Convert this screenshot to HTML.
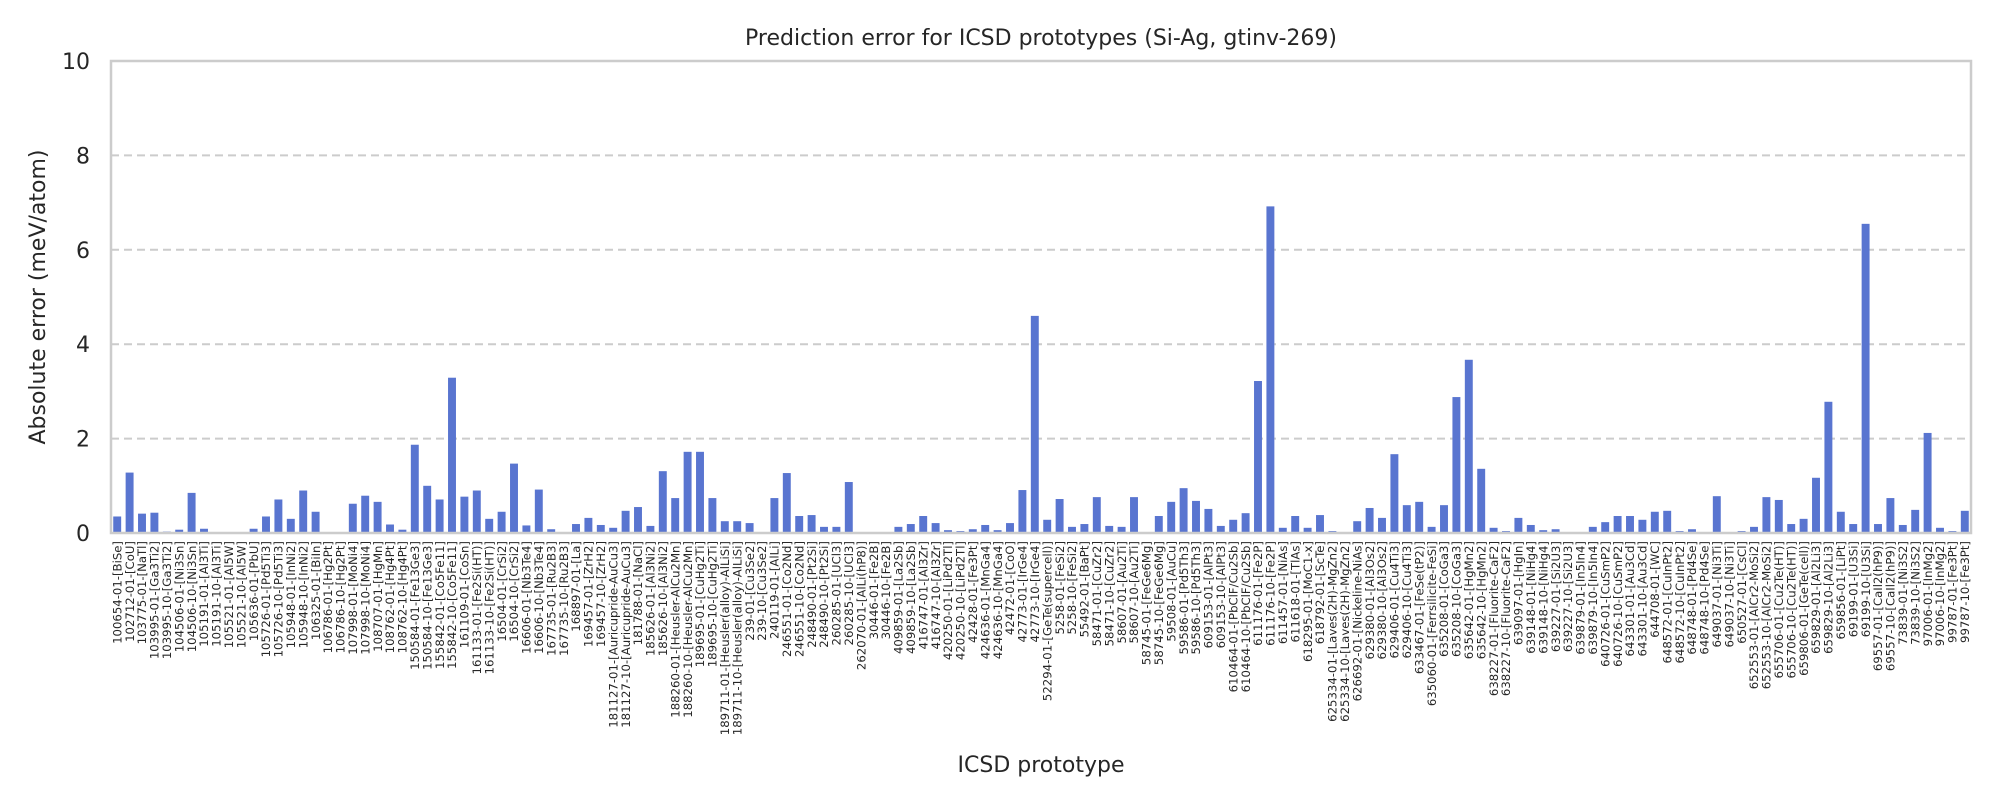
<!DOCTYPE html>
<html><head><meta charset="utf-8"><style>
html,body{margin:0;padding:0;background:#fff;}
svg{display:block;font-family:"DejaVu Sans","Liberation Sans",sans-serif;}
</style></head><body>
<svg id="chart" width="2000" height="800" viewBox="0 0 2000 800" xmlns="http://www.w3.org/2000/svg">
<rect width="2000" height="800" fill="#fff"/>
<text x="1041" y="45" font-size="22" text-anchor="middle" fill="#262626">Prediction error for ICSD prototypes (Si-Ag, gtinv-269)</text>
<g id="grid"></g>
<g id="bars"></g>
<g id="yticks"></g>
<g id="xticks"></g>
<rect x="111" y="61" width="1860" height="472" fill="none" stroke="#cccccc" stroke-width="2.5"/>
<text transform="translate(45,297) rotate(-90)" font-size="22" text-anchor="middle" fill="#262626">Absolute error (meV/atom)</text>
<text x="1041" y="772" font-size="22" text-anchor="middle" fill="#262626">ICSD prototype</text>
</svg>
<script>
const categories = ["100654-01-[BiSe]","102712-01-[CoU]","103775-01-[NaTl]","103995-01-[Ga3Ti2]","103995-10-[Ga3Ti2]","104506-01-[Ni3Sn]","104506-10-[Ni3Sn]","105191-01-[Al3Ti]","105191-10-[Al3Ti]","105521-01-[Al5W]","105521-10-[Al5W]","105636-01-[PbU]","105726-01-[Pd5Ti3]","105726-10-[Pd5Ti3]","105948-01-[InNi2]","105948-10-[InNi2]","106325-01-[BiIn]","106786-01-[Hg2Pt]","106786-10-[Hg2Pt]","107998-01-[MoNi4]","107998-10-[MoNi4]","108707-01-[HgMn]","108762-01-[Hg4Pt]","108762-10-[Hg4Pt]","150584-01-[Fe13Ge3]","150584-10-[Fe13Ge3]","155842-01-[Co5Fe11]","155842-10-[Co5Fe11]","161109-01-[CoSn]","161133-01-[Fe2Si(HT)]","161133-10-[Fe2Si(HT)]","16504-01-[CrSi2]","16504-10-[CrSi2]","16606-01-[Nb3Te4]","16606-10-[Nb3Te4]","167735-01-[Ru2B3]","167735-10-[Ru2B3]","168897-01-[La]","169457-01-[ZrH2]","169457-10-[ZrH2]","181127-01-[Auricupride-AuCu3]","181127-10-[Auricupride-AuCu3]","181788-01-[NaCl]","185626-01-[Al3Ni2]","185626-10-[Al3Ni2]","188260-01-[Heusler-AlCu2Mn]","188260-10-[Heusler-AlCu2Mn]","189695-01-[CuHg2Ti]","189695-10-[CuHg2Ti]","189711-01-[Heusler(alloy)-AlLiSi]","189711-10-[Heusler(alloy)-AlLiSi]","239-01-[Cu3Se2]","239-10-[Cu3Se2]","240119-01-[AlLi]","246551-01-[Co2Nd]","246551-10-[Co2Nd]","248490-01-[Pt2Si]","248490-10-[Pt2Si]","260285-01-[UCl3]","260285-10-[UCl3]","262070-01-[AlLi(hP8)]","30446-01-[Fe2B]","30446-10-[Fe2B]","409859-01-[La2Sb]","409859-10-[La2Sb]","416747-01-[Al3Zr]","416747-10-[Al3Zr]","420250-01-[LiPd2Tl]","420250-10-[LiPd2Tl]","42428-01-[Fe3Pt]","424636-01-[MnGa4]","424636-10-[MnGa4]","42472-01-[CoO]","42773-01-[IrGe4]","42773-10-[IrGe4]","52294-01-[GeTe(supercell)]","5258-01-[FeSi2]","5258-10-[FeSi2]","55492-01-[BaPt]","58471-01-[CuZr2]","58471-10-[CuZr2]","58607-01-[Au2Ti]","58607-10-[Au2Ti]","58745-01-[FeGe6Mg]","58745-10-[FeGe6Mg]","59508-01-[AuCu]","59586-01-[Pd5Th3]","59586-10-[Pd5Th3]","609153-01-[AlPt3]","609153-10-[AlPt3]","610464-01-[PbClF/Cu2Sb]","610464-10-[PbClF/Cu2Sb]","611176-01-[Fe2P]","611176-10-[Fe2P]","611457-01-[NiAs]","611618-01-[TlAs]","618295-01-[MoC1-x]","618792-01-[ScTe]","625334-01-[Laves(2H)-MgZn2]","625334-10-[Laves(2H)-MgZn2]","626692-01-[Nickeline-NiAs]","629380-01-[Al3Os2]","629380-10-[Al3Os2]","629406-01-[Cu4Ti3]","629406-10-[Cu4Ti3]","633467-01-[FeSe(tP2)]","635060-01-[Ferrsilicite-FeSi]","635208-01-[CoGa3]","635208-10-[CoGa3]","635642-01-[HgMn2]","635642-10-[HgMn2]","638227-01-[Fluorite-CaF2]","638227-10-[Fluorite-CaF2]","639097-01-[HgIn]","639148-01-[NiHg4]","639148-10-[NiHg4]","639227-01-[Si2U3]","639227-10-[Si2U3]","639879-01-[In5In4]","639879-10-[In5In4]","640726-01-[CuSmP2]","640726-10-[CuSmP2]","643301-01-[Au3Cd]","643301-10-[Au3Cd]","644708-01-[WC]","648572-01-[CuInPt2]","648572-10-[CuInPt2]","648748-01-[Pd4Se]","648748-10-[Pd4Se]","649037-01-[Ni3Ti]","649037-10-[Ni3Ti]","650527-01-[CsCl]","652553-01-[AlCr2-MoSi2]","652553-10-[AlCr2-MoSi2]","655706-01-[Cu2Te(HT)]","655706-10-[Cu2Te(HT)]","659806-01-[GeTe(cell)]","659829-01-[Al2Li3]","659829-10-[Al2Li3]","659856-01-[LiPt]","69199-01-[U3Si]","69199-10-[U3Si]","69557-01-[CaIl2(hP9)]","69557-10-[CaIl2(hP9)]","73839-01-[Ni3S2]","73839-10-[Ni3S2]","97006-01-[InMg2]","97006-10-[InMg2]","99787-01-[Fe3Pt]","99787-10-[Fe3Pt]"];
const errors = [0.35,1.28,0.41,0.43,0.03,0.07,0.85,0.09,0,0,0,0.09,0.35,0.71,0.30,0.90,0.45,0.01,0.02,0.62,0.79,0.66,0.18,0.07,1.87,1.0,0.71,3.29,0.77,0.90,0.30,0.45,1.47,0.16,0.92,0.08,0.02,0.19,0.32,0.17,0.11,0.47,0.55,0.15,1.31,0.74,1.72,1.72,0.74,0.25,0.25,0.21,0,0.74,1.27,0.36,0.38,0.13,0.13,1.08,0,0.02,0,0.13,0.19,0.36,0.21,0.06,0.04,0.08,0.17,0.06,0.21,0.91,4.6,0.28,0.72,0.13,0.19,0.76,0.15,0.13,0.76,0,0.36,0.66,0.95,0.68,0.51,0.15,0.28,0.42,3.22,6.92,0.11,0.36,0.11,0.38,0.04,0,0.25,0.53,0.32,1.67,0.59,0.66,0.13,0.59,2.88,3.67,1.36,0.11,0.04,0.32,0.17,0.06,0.08,0.02,0,0.13,0.23,0.36,0.36,0.28,0.45,0.47,0.04,0.08,0,0.78,0.02,0.04,0.13,0.76,0.70,0.19,0.30,1.17,2.78,0.45,0.19,6.55,0.19,0.74,0.17,0.49,2.12,0.11,0.04,0.47];
const yTicks = [0,2,4,6,8,10];

const NS = "http://www.w3.org/2000/svg";
const X0 = 111, X1 = 1971, Y0 = 533, Y1 = 61, YMAX = 10;
const step = (X1 - X0) / categories.length;
function xPos(i){ return X0 + step * (i + 0.5); }
function yPos(v){ return Y0 - (v / YMAX) * (Y0 - Y1); }
function mk(tag, attrs, parent){ const e = document.createElementNS(NS, tag); for (const k in attrs) e.setAttribute(k, attrs[k]); parent.appendChild(e); return e; }

const grid = document.getElementById('grid');
const yt = document.getElementById('yticks');
yTicks.forEach(t => {
  if (t > 0 && t < YMAX) {
    const l = mk('line', {x1: X0, x2: X1, y1: yPos(t), y2: yPos(t), stroke: '#cccccc', 'stroke-width': 2, 'stroke-dasharray': '8,5'}, grid);
    
    
  }
  const tx = mk('text', {x: 90, y: yPos(t) + 8, 'font-size': 22, 'text-anchor': 'end', fill: '#262626'}, yt);
  tx.textContent = t;
  
  
});

const bars = document.getElementById('bars');
const xt = document.getElementById('xticks');
const bw = step * 0.64;
categories.forEach((c, i) => {
  const v = errors[i];
  const r = mk('rect', {x: xPos(i) - bw / 2, y: yPos(v), width: bw, height: Y0 - yPos(v), fill: '#5975d0'}, bars);
  
  
  const t = mk('text', {transform: 'translate(' + (xPos(i) + 4.2) + ',541) rotate(-90)', 'font-size': 11.7, 'text-anchor': 'end', fill: '#262626'}, xt);
  t.textContent = c;
  
  
});
</script>
</body></html>
